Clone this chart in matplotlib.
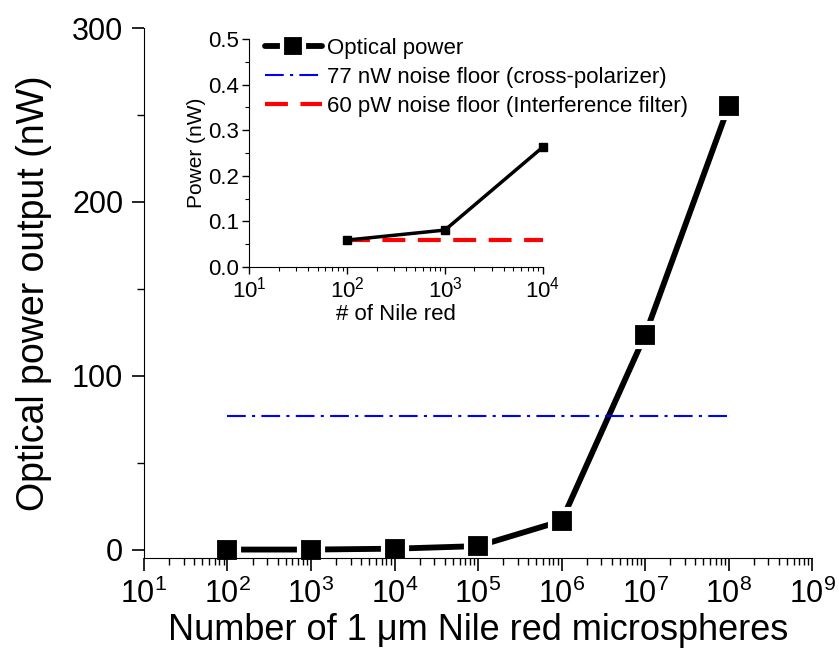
import matplotlib
matplotlib.use('Agg')
import matplotlib.pyplot as plt
from matplotlib.ticker import LogLocator, MultipleLocator, FormatStrFormatter
import numpy as np

plt.rcParams['font.family'] = ['Liberation Sans', 'DejaVu Sans']
plt.rcParams['mathtext.default'] = 'regular'

# main plot data
n_spheres = [1e2, 1e3, 1e4, 1e5, 1e6, 1e7, 1e8]
power_nw = [0.0, 0.0, 0.5, 2.0, 16.5, 123.5, 255.0]
cross_pol_floor = 77.0
floor_x = [1e2, 1e8]

# inset data
n_inset = [1e2, 1e3, 1e4]
power_inset = [0.059, 0.081, 0.263]
interf_floor = 0.06
inset_floor_x = [1e2, 1e4]

fig = plt.figure(figsize=(8.39, 6.56), dpi=100)

ax = fig.add_axes([0.1716, 0.149, 0.7964, 0.808])
# line and squares drawn apart so the white rim leaves a gap (Origin style)
# kept below the axis (zorder 1.5) so ticks stay visible
line_main, = ax.plot(n_spheres, power_nw, color='black', lw=4.2,
                     solid_capstyle='round', clip_on=False, zorder=1.2)
mark_main, = ax.plot(n_spheres, power_nw, ls='none', marker='s', ms=17,
                     mfc='black', mec='white', mew=3, clip_on=False, zorder=1.3)
line_blue, = ax.plot(floor_x, [cross_pol_floor] * 2, color='blue', lw=1.5,
                     dashes=(9, 3, 1.5, 3))
ax.set_xscale('log')
ax.set_xlim(10, 1e9)
ax.set_ylim(-5, 300)
ax.spines['top'].set_visible(False)
ax.spines['right'].set_visible(False)
ax.xaxis.set_major_locator(LogLocator(base=10, numticks=20))
ax.xaxis.set_minor_locator(LogLocator(base=10, subs=np.arange(2, 10), numticks=20))
ax.yaxis.set_major_locator(MultipleLocator(100))
ax.yaxis.set_minor_locator(MultipleLocator(50))
ax.tick_params(which='major', direction='out', length=9, width=1.2, labelsize=22, pad=6)
ax.tick_params(which='minor', direction='out', length=5, width=1.0)
ax.set_xlabel('Number of 1 \u03bcm Nile red microspheres', fontsize=26, labelpad=2)
ax.set_ylabel('Optical power output (nW)', fontsize=27, labelpad=14)

# inset
axi = fig.add_axes([0.297, 0.593, 0.350, 0.3475])
axi.patch.set_alpha(0)
axi.plot(n_inset, power_inset, color='black', lw=2.5, marker='s', ms=5.5,
         clip_on=False, zorder=5)
line_red, = axi.plot(inset_floor_x, [interf_floor] * 2, color='red', lw=3,
                     dashes=(5.5, 3))
axi.set_xscale('log')
axi.set_xlim(10, 1e4)
axi.set_ylim(0, 0.5)
axi.spines['top'].set_visible(False)
axi.spines['right'].set_visible(False)
axi.xaxis.set_major_locator(LogLocator(base=10, numticks=10))
axi.xaxis.set_minor_locator(LogLocator(base=10, subs=np.arange(2, 10), numticks=10))
axi.yaxis.set_major_locator(MultipleLocator(0.1))
axi.yaxis.set_minor_locator(MultipleLocator(0.05))
axi.yaxis.set_major_formatter(FormatStrFormatter('%.1f'))
axi.tick_params(which='major', direction='out', length=5, width=1.0, labelsize=16, pad=2)
axi.tick_params(which='minor', direction='out', length=3, width=0.8)
axi.set_xlabel('# of Nile red', fontsize=16, labelpad=1)
axi.set_ylabel('Power (nW)', fontsize=15, labelpad=2)

axi.legend([(line_main, mark_main), line_blue, line_red],
           ['Optical power', '77 nW noise floor (cross-polarizer)',
            '60 pW noise floor (Interference filter)'],
           loc='upper left', bbox_to_anchor=(0.316, 0.942),
           bbox_transform=fig.transFigure, frameon=False, fontsize=16,
           handlelength=2.55, handletextpad=0.22, labelspacing=0.35,
           borderpad=0, borderaxespad=0, markerscale=0.9)

fig.savefig('out.png', dpi=100)
